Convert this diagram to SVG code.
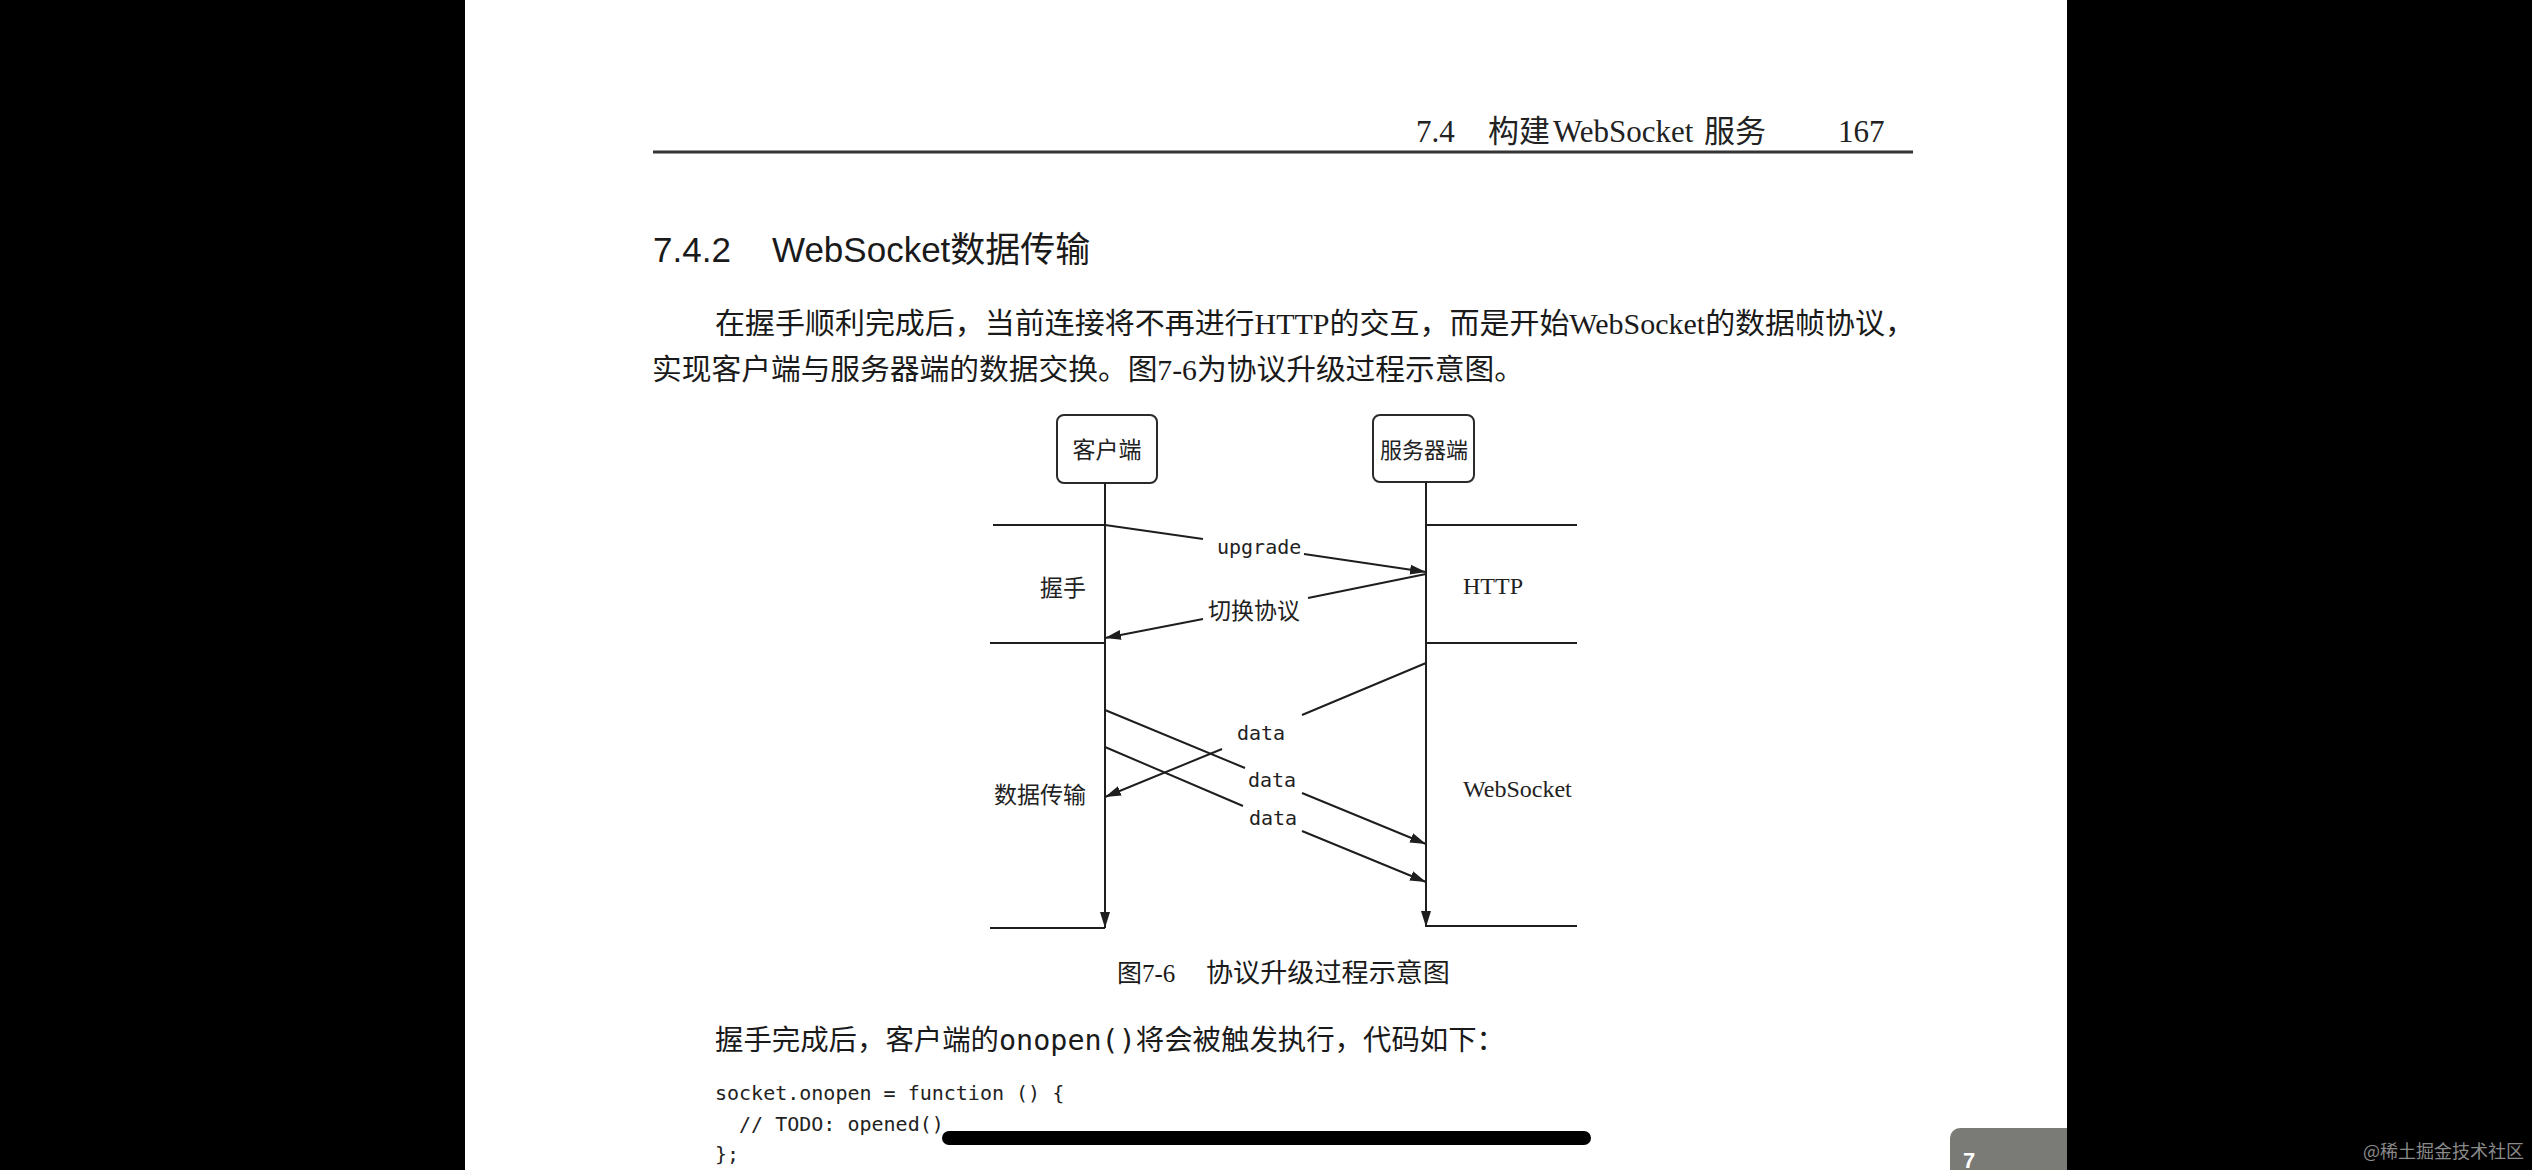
<svg xmlns="http://www.w3.org/2000/svg" width="2532" height="1170" viewBox="0 0 2532 1170">
<style>
.ln{stroke:#1e1e1e;stroke-width:2;fill:none}
.ar{stroke:#1e1e1e;stroke-width:2;fill:none;marker-end:url(#ah)}
.box{fill:#fff;stroke:#2a2a2a;stroke-width:2}
.cjk{font-family:"Noto Sans CJK SC","Noto Sans",sans-serif;fill:#222}
.mono{font-family:"DejaVu Sans Mono","Liberation Mono",monospace;fill:#222}
.ser{font-family:"Liberation Serif","Noto Sans CJK SC",serif;fill:#222}
.body{font-family:"Liberation Serif","Noto Sans CJK SC",serif;fill:#1a1a1a}
</style>
<defs>
<marker id="ah" markerUnits="userSpaceOnUse" markerWidth="18" markerHeight="12" refX="16" refY="6" orient="auto">
<path d="M0,1 L16,6 L0,11 Z" fill="#1e1e1e"/>
</marker>
</defs>
<rect x="0" y="0" width="2532" height="1170" fill="#000"/>
<rect x="465" y="0" width="1602" height="1170" fill="#fff"/>

<!-- page header -->
<text class="ser" font-size="31" y="142"><tspan x="1416">7.4</tspan><tspan x="1488">构建</tspan><tspan x="1553">WebSocket</tspan><tspan x="1704">服务</tspan><tspan x="1838">167</tspan></text>
<line x1="653" y1="152" x2="1913" y2="152" stroke="#333" stroke-width="3"/>

<text font-family="Liberation Sans,Noto Sans CJK SC,sans-serif" font-size="35" fill="#1a1a1a" y="262"><tspan x="653">7.4.2</tspan><tspan x="772">WebSocket数据传输</tspan></text>

<text class="body" font-size="29" x="715" y="334" textLength="1200" lengthAdjust="spacingAndGlyphs">在握手顺利完成后，当前连接将不再进行HTTP的交互，而是开始WebSocket的数据帧协议，</text>
<text class="body" font-size="29" x="652" y="380" textLength="872" lengthAdjust="spacingAndGlyphs">实现客户端与服务器端的数据交换。图7-6为协议升级过程示意图。</text>

<!-- nodes -->
<g id="client">
<rect class="box" x="1057" y="415" width="100" height="68" rx="7"/>
<text class="cjk" font-size="23" x="1107" y="458" text-anchor="middle">客户端</text>
</g>
<g id="server">
<rect class="box" x="1373" y="415" width="101" height="67" rx="7"/>
<text class="cjk" font-size="22" x="1424" y="458" text-anchor="middle">服务器端</text>
</g>
<g id="label-handshake"><text class="cjk" font-size="23" x="1063" y="596" text-anchor="middle">握手</text></g>
<g id="label-http"><text class="ser" font-size="24" x="1463" y="594">HTTP</text></g>
<g id="label-transfer"><text class="cjk" font-size="23" x="1040" y="803" text-anchor="middle">数据传输</text></g>
<g id="label-websocket"><text class="ser" font-size="24" x="1463" y="797">WebSocket</text></g>

<!-- phase separators -->
<g id="separators">
<path class="ln" d="M993,525 H1105 M1426,525 H1577 M990,643 H1105 M1426,643 H1577 M990,928 H1105 M1426,926 H1577"/>
</g>

<!-- connectors -->
<g id="connectors">
<path class="ar" d="M1105,483 V928"/>
<path class="ar" d="M1426,482 V927"/>
<path class="ar" d="M1105,525 L1203,539 M1304,554 L1426,572"/>
<path class="ar" d="M1426,574 L1308,598 M1203,619 L1105,638"/>
<path class="ar" d="M1426,663 L1302,715 M1222,749 L1105,797"/>
<path class="ar" d="M1105,710 L1245,768 M1302,793 L1426,844"/>
<path class="ar" d="M1105,747 L1243,806 M1302,831 L1426,882"/>
<text class="mono" font-size="20" x="1217" y="554">upgrade</text>
<text class="cjk" font-size="23" x="1208" y="619">切换协议</text>
<text class="mono" font-size="20" x="1237" y="740">data</text>
<text class="mono" font-size="20" x="1248" y="787">data</text>
<text class="mono" font-size="20" x="1249" y="825">data</text>
</g>

<!-- caption and following text -->
<text class="body" font-size="25" y="982"><tspan x="1117">图7-6</tspan></text>
<text class="body" font-size="26" x="1206" y="982" textLength="244" lengthAdjust="spacingAndGlyphs">协议升级过程示意图</text>
<text class="body" font-size="28" x="715" y="1050" textLength="790" lengthAdjust="spacingAndGlyphs">握手完成后，客户端的<tspan font-family="DejaVu Sans Mono,monospace">onopen()</tspan>将会被触发执行，代码如下：</text>
<text class="mono" font-size="20" x="715" y="1100" xml:space="preserve">socket.onopen = function () {</text>
<text class="mono" font-size="20" x="715" y="1131" xml:space="preserve">  // TODO: opened()</text>
<text class="mono" font-size="20" x="715" y="1161">};</text>

<rect x="942" y="1131" width="649" height="14" rx="7" fill="#000"/>
<path d="M1960,1128 H2067 V1170 H1950 V1138 A10,10 0 0 1 1960,1128 Z" fill="#7a7a76"/>
<text font-family="Liberation Sans,sans-serif" font-weight="bold" font-size="22" fill="#fff" x="1963" y="1168">7</text>
<text font-family="Noto Sans CJK SC,sans-serif" font-size="18" fill="#8a8a8a" x="2363" y="1158">@稀土掘金技术社区</text>
</svg>
